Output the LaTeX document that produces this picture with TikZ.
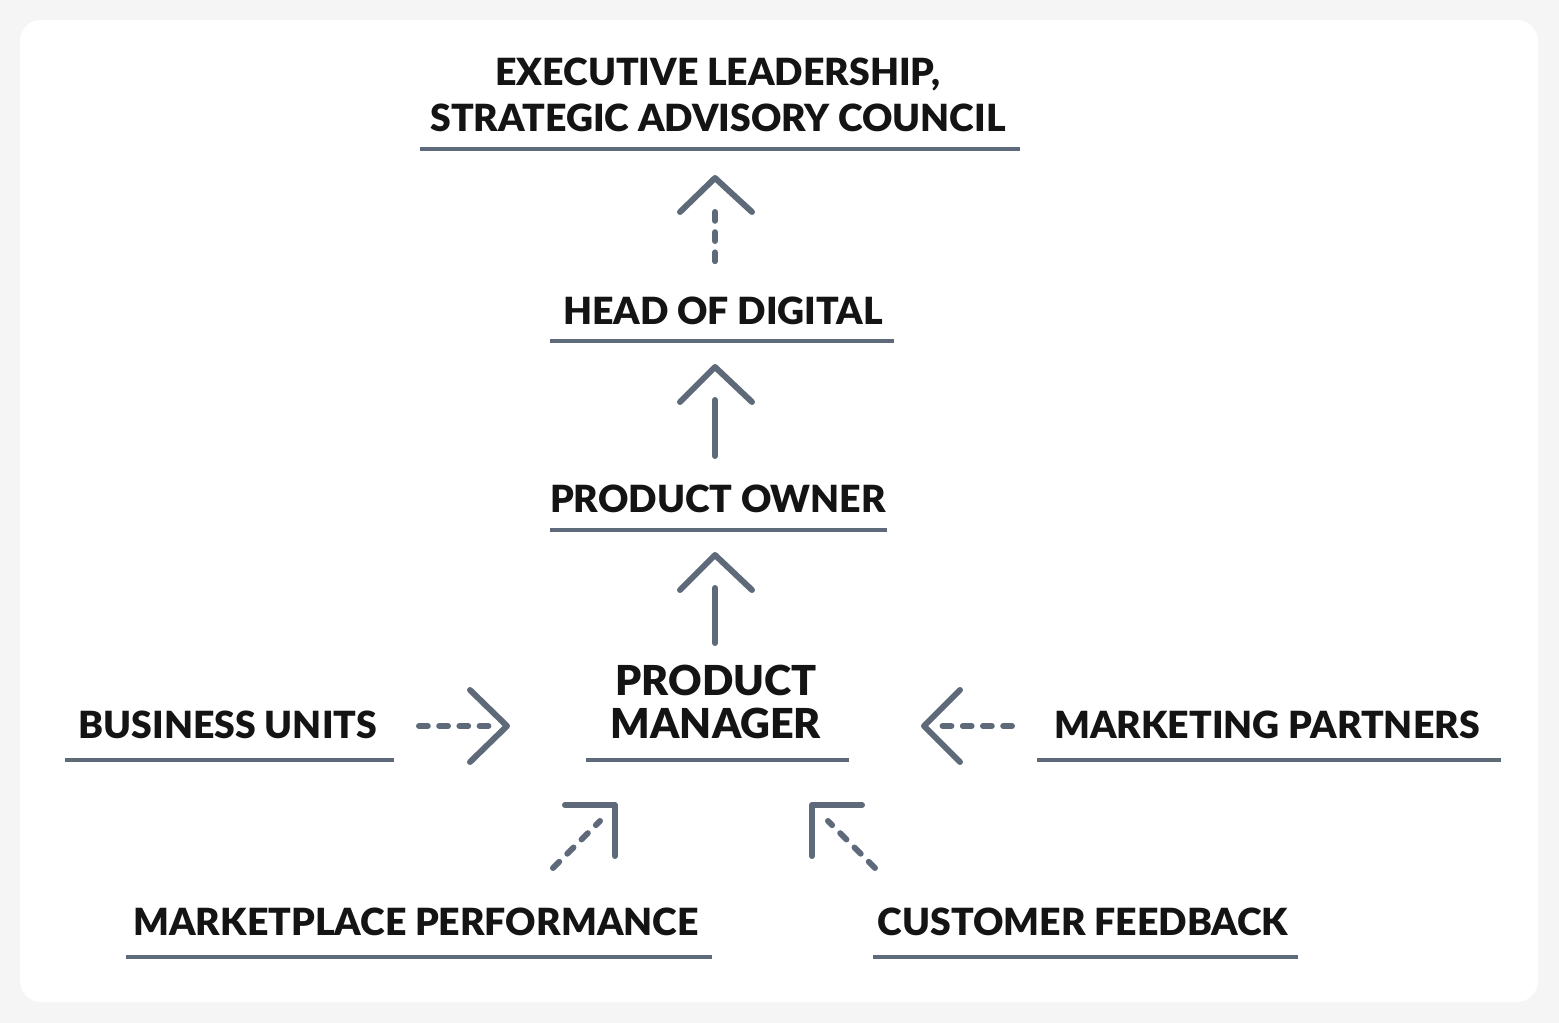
\documentclass[tikz,border=0pt]{standalone}
\usepackage{fontspec}
\setmainfont{Lato}[BoldFont={Lato Black}]
\definecolor{ink}{HTML}{5E6A7A}
\definecolor{txt}{HTML}{141414}
\begin{document}
\begin{tikzpicture}[x=0.02cm,y=-0.02cm,
  lbl/.style={font=\fontsize{21.3}{25}\selectfont\bfseries, text=txt, align=center, inner sep=0},
  uline/.style={draw=ink, line width=2pt},
  arr/.style={draw=ink, line width=3.4pt, line cap=round, line join=round},
  dsh/.style={arr, dash pattern=on 5pt off 6.5pt}]
\fill[black!4] (0,0) rectangle (1559,1023);
\useasboundingbox (0,0) rectangle (1559,1023);
\fill[white, rounded corners=12] (20,20) rectangle (1538,1002);

\node[lbl] (exec) at (718,95) {EXECUTIVE LEADERSHIP,\\[1pt]STRATEGIC ADVISORY COUNCIL};
\draw[uline] (420,149) -- (1020,149);
\node[lbl] (head) at (723,311) {HEAD OF DIGITAL};
\draw[uline] (550,341) -- (894,341);
\node[lbl] (po) at (718,499) {PRODUCT OWNER};
\draw[uline] (550,530) -- (887,530);
\node[lbl, font=\fontsize{23.5}{24}\selectfont\bfseries] (pm) at (716,702) {PRODUCT\\MANAGER};
\draw[uline] (586,760) -- (849,760);
\node[lbl] (bu) at (228,725) {BUSINESS UNITS};
\draw[uline] (65,760) -- (394,760);
\node[lbl] (mp) at (1267,725) {MARKETING PARTNERS};
\draw[uline] (1037,760) -- (1501,760);
\node[lbl] (perf) at (416,922) {MARKETPLACE PERFORMANCE};
\draw[uline] (126,957) -- (712,957);
\node[lbl] (cf) at (1083,922) {CUSTOMER FEEDBACK};
\draw[uline] (873,957) -- (1298,957);

% up arrows
\draw[arr] (680,212) -- (715,178) -- (752,212);
\draw[dsh] (715,212) -- (715,266);
\draw[arr] (680,402) -- (715,367) -- (752,402);
\draw[arr] (715,400) -- (715,456);
\draw[arr] (680,590) -- (715,555) -- (752,590);
\draw[arr] (715,588) -- (715,643);
% side arrows
\draw[arr] (470,690) -- (507,726) -- (470,762);
\draw[dsh] (419,726) -- (492,726);
\draw[arr] (960,690) -- (924,726) -- (960,762);
\draw[dsh] (1012,726) -- (940,726);
% diagonal arrows
\draw[arr] (565,805) -- (615,805) -- (615,856);
\draw[dsh] (553,868) -- (600,821);
\draw[arr] (862,805) -- (812,805) -- (812,856);
\draw[dsh] (875,868) -- (828,821);
\end{tikzpicture}
\end{document}
